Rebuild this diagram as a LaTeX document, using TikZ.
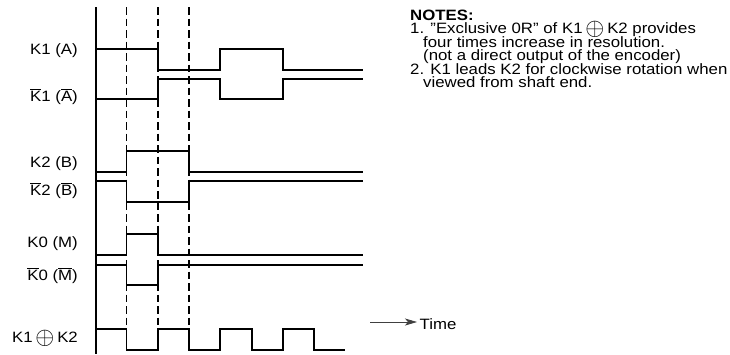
\documentclass[tikz,border=0pt]{standalone}
\usepackage{fontspec}
\setmainfont{Liberation Sans}
\usetikzlibrary{arrows.meta}

\newcommand{\widetxt}[1]{\scalebox{1.12}[1]{#1}}
\newcommand{\ovbar}[1]{\ensuremath{\overline{\mbox{#1}}}}
\newcommand{\xorsign}{\raisebox{-2pt}{\scalebox{1.7}{$\oplus$}}}

\begin{document}
\begin{tikzpicture}[x=1pt, y=-1pt, >=Stealth,
    sig/.style={line width=1.2pt, line join=miter},
    guide/.style={line width=1.3pt, dash pattern=on 7.5pt off 4pt},
    lbl/.style={anchor=base east, inner sep=0pt},
    note/.style={anchor=base west, inner sep=0pt},
    font=\fontsize{15pt}{13.5pt}\selectfont]
    \useasboundingbox (0,0) rectangle (730,354);
    % 纵轴与虚线
    \draw[sig] (96,7) -- (96,354);
    \draw[guide] (126.5,7) -- (126.5,329);
    \draw[guide] (158,7) -- (158,329);
    \draw[guide] (189,7) -- (189,329);
    % 信号标记
    \node[lbl] (lA)  at (78,54.5) {\widetxt{K1 (A)}};
    \node[lbl] (lAn) at (78,101) {\widetxt{\ovbar{K}1 (\ovbar{A})}};
    \node[lbl] (lB)  at (78,167) {\widetxt{K2 (B)}};
    \node[lbl] (lBn) at (78,195) {\widetxt{\ovbar{K}2 (\ovbar{B})}};
    \node[lbl] (lM)  at (78,247) {\widetxt{K0 (M)}};
    \node[lbl] (lMn) at (78,280) {\widetxt{\ovbar{K}0 (\ovbar{M})}};
    \node[lbl] (lX)  at (78,342) {\widetxt{K1\,}\xorsign\widetxt{\,K2}};
    % 波形
    \draw[sig] (96,49) -- (158,49) -- (158,70) -- (220,70) -- (220,49) -- (283,49) -- (283,70) -- (363,70);
    \draw[sig] (96,99) -- (158,99) -- (158,79) -- (220,79) -- (220,99) -- (283,99) -- (283,79) -- (363,79);
    \draw[sig] (96,172) -- (126.5,172) -- (126.5,151) -- (189,151) -- (189,172) -- (363,172);
    \draw[sig] (96,181) -- (126.5,181) -- (126.5,202) -- (189,202) -- (189,181) -- (363,181);
    \draw[sig] (96,255) -- (126.5,255) -- (126.5,234) -- (158,234) -- (158,255) -- (363,255);
    \draw[sig] (96,265) -- (126.5,265) -- (126.5,285) -- (158,285) -- (158,265) -- (363,265);
    \draw[sig] (96,329) -- (126.5,329) -- (126.5,350) -- (158,350) -- (158,329) -- (189,329) -- (189,350)
        -- (220,350) -- (220,329) -- (252,329) -- (252,350) -- (283,350) -- (283,329) -- (314,329)
        -- (314,350) -- (345,350);
    % 时间箭头
    \coordinate (tstart) at (370,322);
    \node[anchor=base west, inner sep=0pt, inner xsep=2.5pt] (time) at (417,329.5) {\widetxt{Time}};
    \draw[-{Stealth[length=12pt, width=7pt, inset=3pt]}, line width=0.8pt, black!75] (tstart) -- (tstart -| time.west);
    % 说明
    \node[note] (n0) at (410,20) {\widetxt{\bfseries NOTES:}};
    \node[note] (n1) at (410,33.5) {\widetxt{1. "Exclusive 0R" of K1\,}\xorsign\widetxt{\,K2 provides}};
    \node[note] (n2) at (423,47) {\widetxt{four times increase in resolution.}};
    \node[note] (n3) at (423,60.5) {\widetxt{(not a direct output of the encoder)}};
    \node[note] (n4) at (410,74) {\widetxt{2. K1 leads K2 for clockwise rotation when}};
    \node[note] (n5) at (423,87.5) {\widetxt{viewed from shaft end.}};
\end{tikzpicture}
\end{document}
